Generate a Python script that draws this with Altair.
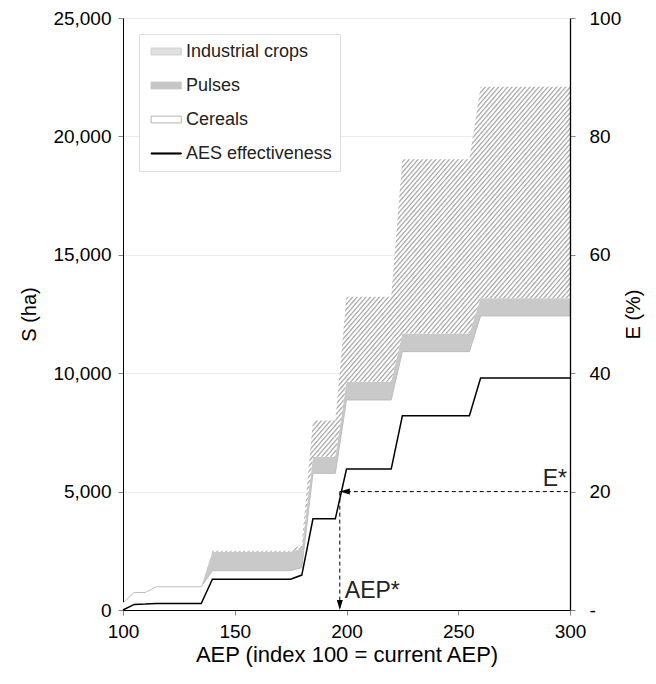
import altair as alt
import pandas as pd

# ---- data ----
aep = [100, 105, 110, 115, 135, 140, 175, 180, 185, 195, 200, 220, 225, 255, 260, 300]
cereals = [300, 740, 740, 980, 980, 1660, 1660, 1780, 5770, 5770, 8870, 8870, 10910, 10910, 12420, 12420]
pulses = [0, 0, 0, 0, 0, 800, 800, 820, 700, 700, 770, 770, 770, 770, 740, 740]
industrial = [0, 0, 0, 0, 0, 40, 40, 200, 1530, 1530, 3590, 3590, 7350, 7350, 8940, 8940]
aes_eff = [0, 0.95, 1.0, 1.1, 1.1, 5.2, 5.2, 5.9, 15.4, 15.4, 23.8, 23.8, 32.8, 32.8, 39.2, 39.2]

legend_names = ["Industrial crops", "Pulses", "Cereals", "AES effectiveness"]
s_ticks = [0, 5000, 10000, 15000, 20000, 25000]
e_ticks = [0, 20, 40, 60, 80, 100]
x_ticks = [100, 150, 200, 250, 300]
aep_star = 197
e_star = 20
x_max = 300
e_min = 0

df = pd.DataFrame({"aep": aep, "cereals": cereals, "pulses": pulses,
                   "industrial": industrial, "aes": aes_eff})
legend_df = pd.DataFrame({"name": legend_names})
h_df = pd.DataFrame({"x": [aep_star], "x2": [x_max], "e": [e_star]})
v_df = pd.DataFrame({"x": [aep_star], "e": [e_star], "e2": [e_min]})
tip_df = pd.DataFrame({"x": [aep_star], "e": [e_min]})
estar_df = pd.DataFrame({"x": [x_max], "e": [e_star], "t": ["E*"]})
aepstar_df = pd.DataFrame({"x": [aep_star], "e": [e_min], "t": ["AEP*"]})

FONT = "Liberation Sans"
TXT = "#222222"

# hatch pattern as a striped linear gradient (soft-edged stripes)
N = 200
stops = []
for i in range(N):
    stops += [{"offset": i / N, "color": "#b0b0b0"},
              {"offset": (i + 0.18) / N, "color": "#b0b0b0"},
              {"offset": (i + 0.45) / N, "color": "#ffffff"},
              {"offset": (i + 0.82) / N, "color": "#ffffff"}]
stops.append({"offset": 1, "color": "#b0b0b0"})
hatch = {"gradient": "linear", "x1": 0, "y1": 0, "x2": 1, "y2": 1, "stops": stops}

x_scale = alt.Scale(domain=[100, 300], nice=False, zero=False)
x_axis = alt.Axis(values=x_ticks, title="AEP (index 100 = current AEP)", grid=False,
                  labelFontSize=19, titleFontSize=22, labelPadding=7, titlePadding=3,
                  tickSize=5, labelFlush=False, titleFontWeight="normal", zindex=1,
                  domainColor="#000000")
s_scale = alt.Scale(domain=[0, 25000], nice=False)
s_axis = alt.Axis(values=s_ticks, format=",.0f", title="S (ha)", grid=True, gridColor="#ececec",
                  labelFontSize=19, titleFontSize=20, labelPadding=7, titlePadding=13,
                  tickSize=5, labelFlush=False, titleFontWeight="normal",
                  domainColor="#000000")
e_scale = alt.Scale(domain=[0, 100], nice=False)
e_axis = alt.Axis(values=e_ticks, orient="right", title="E (%)", grid=False,
                  labelExpr="datum.value == 0 ? '-' : datum.label",
                  labelFontSize=19, titleFontSize=20, labelPadding=14, titlePadding=23,
                  tickSize=5, titleAngle=270, labelFlush=False, titleFontWeight="normal",
                  zindex=2, domainColor="#000000", domainWidth=1.3, domainOpacity=1)


def X(field):
    return alt.X(field, type="quantitative", scale=x_scale, axis=x_axis)


def YS(field):
    return alt.Y(field, type="quantitative", scale=s_scale, axis=s_axis)


def YE(field):
    return alt.Y(field, type="quantitative", scale=e_scale, axis=e_axis)


base = alt.Chart(df).transform_calculate(
    pulses_top="datum.cereals + datum.pulses",
    total="datum.cereals + datum.pulses + datum.industrial",
)

cereal_area = base.mark_area(fill="white").encode(x=X("aep"), y=YS("cereals"))
pulses_area = base.mark_area(fill="#c9c9c9").encode(
    x=X("aep"), y=YS("pulses_top"), y2="cereals:Q")
ind_area = base.mark_area(fill=hatch).encode(
    x=X("aep"), y=YS("total"), y2="pulses_top:Q")
cereal_line = base.mark_line(color="#bdbdbd", strokeWidth=1).encode(
    x=X("aep"), y=YS("cereals"))

leg = alt.Legend(orient="none", legendX=16, legendY=16, title=None, padding=8,
                 labelFontSize=18, labelFont=FONT, labelColor=TXT, labelOffset=20,
                 rowPadding=15, symbolSize=324, fillColor="white", strokeColor="#dddddd",
                 symbolStrokeWidth=1, labelLimit=300)
sw = "M-0.6,-0.38H2.75V0.38H-0.6Z"
ln = "M-0.6,-0.06H2.75V0.06H-0.6Z"
legend_layer = alt.Chart(legend_df).mark_point(filled=True, opacity=1).encode(
    fill=alt.Fill("name:N", scale=alt.Scale(domain=legend_names,
                  range=["#e0e0e0", "#c6c6c6", "#ffffff", "#000000"]), legend=leg),
    stroke=alt.Stroke("name:N", scale=alt.Scale(domain=legend_names,
                      range=["#cfcfcf", "#c6c6c6", "#b5b5b5", "#000000"]), legend=leg),
    shape=alt.Shape("name:N", scale=alt.Scale(domain=legend_names,
                    range=[sw, sw, sw, ln]), legend=leg),
).transform_filter("false")

left = alt.layer(cereal_area, pulses_area, ind_area, cereal_line, legend_layer)

aes_line = alt.Chart(df).mark_line(color="black", strokeWidth=1.5).encode(
    x=X("aep"), y=YE("aes"))
h_rule = alt.Chart(h_df).mark_rule(color="black", strokeWidth=1, strokeDash=[4, 3]).encode(
    x=X("x"), x2="x2:Q", y=YE("e"))
v_rule = alt.Chart(v_df).mark_rule(color="black", strokeWidth=1, strokeDash=[4, 3]).encode(
    x=X("x"), y=YE("e"), y2="e2:Q")
left_tip = alt.Chart(h_df).mark_point(shape="M-1,0L1,-0.6L1,0.6Z", filled=True, color="black",
                                      opacity=1, size=100, xOffset=5).encode(
    x=X("x"), y=YE("e"))
down_tip = alt.Chart(tip_df).mark_point(shape="M0,1L-0.6,-1L0.6,-1Z", filled=True, color="black",
                                        opacity=1, size=100, yOffset=-5).encode(
    x=X("x"), y=YE("e"))
estar = alt.Chart(estar_df).mark_text(font=FONT, fontSize=23, color=TXT, align="right",
                                      baseline="alphabetic", dx=-3, dy=-6).encode(
    x=X("x"), y=YE("e"), text="t:N")
aepstar = alt.Chart(aepstar_df).mark_text(font=FONT, fontSize=23, color=TXT, align="left",
                                          baseline="alphabetic", dx=5, dy=-12).encode(
    x=X("x"), y=YE("e"), text="t:N")

right = alt.layer(aes_line, h_rule, v_rule, left_tip, down_tip, estar, aepstar)

chart = alt.layer(left, right).resolve_scale(y="independent").properties(
    width=447, height=592,
    autosize=alt.AutoSizeParams(type="none"),
    padding={"left": 115, "top": 10, "right": 78, "bottom": 66},
).configure_view(stroke=None).configure_axis(
    labelFont=FONT, titleFont=FONT, labelColor=TXT, titleColor=TXT,
    titleFontWeight="normal", domainColor="black", domainWidth=1,
    tickColor="#999999",
).configure(background="white")

chart.save("out.html", embed_options={"renderer": "svg", "actions": False})
